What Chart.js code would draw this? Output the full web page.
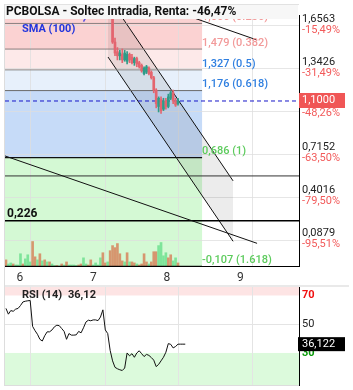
<!DOCTYPE html>
<html><head><meta charset="utf-8">
<script src="https://cdn.jsdelivr.net/npm/chart.js@4.4.0/dist/chart.umd.min.js"></script>
<style>
html,body{margin:0;padding:0;background:#fff;}
#wrap{position:relative;width:353px;height:390px;overflow:hidden;}
canvas{position:absolute;left:0;}
</style></head><body>
<div id="wrap">
<canvas id="main" width="353" height="285" style="top:0"></canvas>
<canvas id="rsi" width="353" height="105" style="top:285px"></canvas>
</div>
<script>
// ---------------- DATA ----------------
const chartTitle = 'PCBOLSA - Soltec Intradia, Renta: -46,47%';
const xTickValues = [6, 7, 8, 9];
const xTickLabels = ['6', '7', '8', '9'];
const xGridValues = [6.14, 7.155, 8.15, 9.16];

const priceTicks = [1.6563, 1.3426, 1.0289, 0.7152, 0.4016, 0.0879];
const priceTickLabels = ['1,6563', '1,3426', '', '0,7152', '0,4016', '0,0879'];
const pctTickLabels = ['-15,49%', '-31,49%', '', '-63,50%', '-79,50%', '-95,51%'];
const lastPrice = 1.1;
const lastPriceLabel = '1,1000';
const lastPctLabel = '-48,26%';

const fibValues = [1.666, 1.479, 1.327, 1.176, 0.686, -0.107];
const fibLabels = ['1,666 (0.236)', '1,479 (0.382)', '1,327 (0.5)', '1,176 (0.618)', '0,686 (1)', '-0,107 (1.618)'];
const fibTimeRange = [5.796, 8.48];

const channelTimes = [7.199, 8.902];
const channelUpper = [1.862, 0.517];
const channelLower = [1.421, 0.076];

const trendUpperTimes = [8.316, 9.229];
const trendUpperValues = [1.716, 1.545];
const trendLowerTimes = [5.796, 9.229];
const trendLowerValues = [0.699, 0.061];

const supportLevels = [0.553, 0.226];
const supportLabel = '0,226';
const smaLabel = 'SMA (100)';

const firstBarTime = 5.809;
const barStep = 0.033;

const volume = [60,20,30,20,10,10,120,20,70,110, 40,240,90,60,120,50,60,40,40,20,
  5,5,0,20,10,40,10,10,10,5, 10,20,80,20,10,60,10,30,10,80,
  130,30,40,150,200,180,220,120,50,40, 130,40,40,30,20,10,20,120,40,20,
  40,140,140,200,230,100,130,80,110,50, 80,30];
const volumeUp = [0,1,1,0,1,1,1,0,1,1, 1,0,0,1,0,1,0,1,0,1,
  1,0,1,0,1,0,1,1,1,1, 0,0,1,1,0,0,1,1,1,1,
  0,0,1,0,0,0,0,0,0,1, 0,1,0,0,1,0,0,0,0,1,
  0,0,0,1,1,1,1,0,0,1, 1,0];

const candleFirstBar = 44;
const candleOpen  = [1.72,1.53,1.46,1.43,1.44,1.40,1.39,1.44,1.42,1.38,1.41,1.38,1.36,1.30,1.31,1.34,1.31,1.27,1.18,1.06,1.11,1.04,1.10,1.06,1.12,1.16,1.10,1.08];
const candleHigh  = [1.75,1.56,1.49,1.47,1.48,1.47,1.46,1.45,1.44,1.42,1.42,1.39,1.37,1.35,1.36,1.35,1.32,1.28,1.19,1.13,1.13,1.12,1.12,1.15,1.17,1.18,1.12,1.12];
const candleLow   = [1.52,1.43,1.40,1.40,1.38,1.39,1.37,1.38,1.37,1.36,1.35,1.34,1.31,1.29,1.30,1.29,1.26,1.16,1.05,1.02,1.01,1.03,1.04,1.05,1.11,1.08,1.06,1.07];
const candleClose = [1.53,1.45,1.43,1.45,1.40,1.45,1.44,1.40,1.38,1.41,1.37,1.35,1.32,1.34,1.35,1.30,1.27,1.18,1.08,1.12,1.03,1.10,1.06,1.13,1.16,1.10,1.07,1.10];

const smaBars = [32, 33];
const smaValues = [1.68, 1.71];

const rsiValues = [61,57,59.5,59,60.5,61,63,65.5,66,66.3, 66.5,48.5,45.5,43,39.5,38.3,42,44.7,44.7,46,
  48.2,49.3,49,47,45,39.5,43.5,42.4,42.4,42.6, 45,44,47.5,51.5,52.8,52.4,53,53,52.5,55,
  60,46,43.5,31.8,24.5,20,19,18.3,17.8,19.5, 30,28,29.5,27,30,31.5,29.5,27.5,29,28.3,
  26.8,25,20.5,22,24.5,27,30.5,36.5,36,33.5, 34.5,36.12,36.12,36.12,36.12];
const rsiTitle = 'RSI (14)';
const rsiLastShort = '36,12';
const rsiLastLong = '36,122';
const rsiLevels = [70, 50, 30];
const rsiLevelLabels = ['70', '50', '30'];

// ---------------- STYLE ----------------
const X_MIN = 5.796, X_MAX = 9.8;
const Y_MIN = -0.1044, Y_MAX = 1.7277;
const RSI_MIN = 7.7, RSI_MAX = 75.9;
const FONT = 'Roboto, "Open Sans", sans-serif';
const upColor = '#2e9c88', downColor = '#e4656f';
const volUpColor = '#7ee49a', volDownColor = '#d6966f';
const bandColors = ['#fbd2d2', '#fde9e9', '#e7f0fb', '#c6dbf8', '#d4f9d4'];
const fibLineColors = ['#8a7f7f', '#8a7f7f', '#888', '#6a6a6a', '#111', '#111'];
const fibLabelColors = ['#f29a9a', '#f29a9a', '#2f7fe0', '#2f7fe0', '#5ccb5c', '#5ccb5c'];
const gridColor = 'rgba(222,222,222,0.75)';

Chart.defaults.font.family = FONT;

const barTime = i => firstBarTime + i * barStep;

// ---------------- MAIN CHART ----------------
const datasets = [];
datasets.push({
  type: 'bar', yAxisID: 'yv', order: 30, grouped: false, barThickness: 2,
  data: volume.map((v, i) => ({x: barTime(i), y: v})),
  backgroundColor: volumeUp.map(u => u ? volUpColor : volDownColor)
});
const lineBase = {type: 'line', yAxisID: 'y', pointRadius: 0, borderWidth: 1, fill: false, tension: 0};
datasets.push(Object.assign({}, lineBase, {
  order: 25, borderColor: '#111', fill: '+1', backgroundColor: 'rgba(0,0,0,0.075)',
  data: channelTimes.map((t, i) => ({x: t, y: channelUpper[i]}))
}));
datasets.push(Object.assign({}, lineBase, {
  order: 24, borderColor: '#111',
  data: channelTimes.map((t, i) => ({x: t, y: channelLower[i]}))
}));
fibValues.forEach((v, k) => {
  datasets.push(Object.assign({}, lineBase, {
    order: 20, borderColor: fibLineColors[k], borderWidth: k >= 4 ? 1.2 : 1,
    data: fibTimeRange.map(t => ({x: t, y: v}))
  }));
});
supportLevels.forEach((v, k) => {
  datasets.push(Object.assign({}, lineBase, {
    order: 15, borderColor: k === 0 ? '#333' : '#000', borderWidth: k === 0 ? 1 : 1.5,
    data: [{x: X_MIN, y: v}, {x: X_MAX, y: v}]
  }));
});
datasets.push(Object.assign({}, lineBase, {
  order: 14, borderColor: '#111',
  data: trendUpperTimes.map((t, i) => ({x: t, y: trendUpperValues[i]}))
}));
datasets.push(Object.assign({}, lineBase, {
  order: 14, borderColor: '#111',
  data: trendLowerTimes.map((t, i) => ({x: t, y: trendLowerValues[i]}))
}));
datasets.push(Object.assign({}, lineBase, {
  order: 12, borderColor: '#1515c8', borderDash: [4, 3],
  data: [{x: X_MIN, y: lastPrice}, {x: X_MAX, y: lastPrice}]
}));
datasets.push(Object.assign({}, lineBase, {
  order: 10, borderColor: '#5a4ee0', borderWidth: 1.5,
  data: smaBars.map((b, i) => ({x: barTime(b), y: smaValues[i]}))
}));
const candleColors = candleOpen.map((o, i) => candleClose[i] >= o ? upColor : downColor);
datasets.push({
  type: 'bar', yAxisID: 'y', order: 3, grouped: false, barThickness: 1,
  data: candleOpen.map((o, i) => ({x: barTime(candleFirstBar + i), y: [candleLow[i], candleHigh[i]]})),
  backgroundColor: candleColors
});
datasets.push({
  type: 'bar', yAxisID: 'y', order: 2, grouped: false, barThickness: 2,
  data: candleOpen.map((o, i) => ({x: barTime(candleFirstBar + i), y: [o, candleClose[i]]})),
  backgroundColor: candleColors
});

function clipArea(ctx, a) {
  ctx.beginPath(); ctx.rect(a.left, a.top, a.right - a.left, a.bottom - a.top); ctx.clip();
}
function hLine(ctx, x0, x1, y) { ctx.beginPath(); ctx.moveTo(x0, Math.round(y) + 0.5); ctx.lineTo(x1, Math.round(y) + 0.5); ctx.stroke(); }
function vLine(ctx, x, y0, y1) { ctx.beginPath(); ctx.moveTo(Math.round(x) + 0.5, y0); ctx.lineTo(Math.round(x) + 0.5, y1); ctx.stroke(); }

const mainPlugin = {
  id: 'mainDeco',
  beforeDraw(chart) {
    const c = chart.ctx; c.save(); c.fillStyle = '#fff'; c.fillRect(0, 0, chart.width, chart.height); c.restore();
  },
  beforeDatasetsDraw(chart) {
    const {ctx, chartArea: a} = chart; const xs = chart.scales.x, ys = chart.scales.y;
    ctx.save(); clipArea(ctx, a);
    const x0 = xs.getPixelForValue(fibTimeRange[0]), x1 = xs.getPixelForValue(fibTimeRange[1]);
    const edges = [Y_MAX, fibValues[1], fibValues[2], fibValues[3], fibValues[4], Y_MIN];
    for (let k = 0; k < 5; k++) {
      const yA = ys.getPixelForValue(edges[k]), yB = ys.getPixelForValue(edges[k + 1]);
      ctx.fillStyle = bandColors[k];
      ctx.fillRect(x0, yA, x1 - x0, yB - yA);
    }
    ctx.strokeStyle = gridColor; ctx.lineWidth = 1;
    xGridValues.forEach(v => vLine(ctx, xs.getPixelForValue(v), a.top, a.bottom));
    priceTicks.forEach(v => hLine(ctx, a.left, a.right, ys.getPixelForValue(v)));
    ctx.restore();
  },
  afterDraw(chart) {
    const {ctx, chartArea: a} = chart; const xs = chart.scales.x, ys = chart.scales.y;
    ctx.save();
    // fib labels
    ctx.font = '500 11px ' + FONT; ctx.textBaseline = 'middle'; ctx.textAlign = 'left';
    const lx = xs.getPixelForValue(fibTimeRange[1]);
    fibValues.forEach((v, k) => {
      ctx.fillStyle = fibLabelColors[k];
      ctx.fillText(fibLabels[k], lx, ys.getPixelForValue(v) - 6);
    });
    // support label
    ctx.font = 'bold 12px ' + FONT; ctx.fillStyle = '#111';
    ctx.fillText(supportLabel, a.left + 2, ys.getPixelForValue(supportLevels[1]) - 7);
    // SMA label
    ctx.font = 'bold 11px ' + FONT; ctx.fillStyle = '#2235dd';
    ctx.fillText(smaLabel, 22, 29);
    // right axis labels
    ctx.font = '11px ' + FONT;
    priceTicks.forEach((v, k) => {
      if (!priceTickLabels[k]) return;
      const y = ys.getPixelForValue(v);
      ctx.fillStyle = '#222'; ctx.fillText(priceTickLabels[k], a.right + 3, y - 6);
      ctx.fillStyle = '#f25a5a'; ctx.fillText(pctTickLabels[k], a.right + 3, y + 5);
    });
    const yp = ys.getPixelForValue(lastPrice);
    ctx.fillStyle = '#f05656'; ctx.fillRect(a.right, yp - 8, 46, 15);
    ctx.fillStyle = '#fff'; ctx.fillText(lastPriceLabel, a.right + 3, yp - 0.5);
    ctx.fillStyle = '#f25a5a'; ctx.fillText(lastPctLabel, a.right + 3, yp + 12);
    // title box
    ctx.fillStyle = '#f7f7f7'; ctx.fillRect(5, 4, a.right - 6, 15);
    ctx.strokeStyle = '#e2e2e2'; ctx.lineWidth = 1; hLine(ctx, 4, a.right, 4);
    ctx.font = 'bold 12px ' + FONT; ctx.fillStyle = '#111';
    ctx.fillText(chartTitle, 6, 12);
    // left frame
    ctx.strokeStyle = '#ddd'; vLine(ctx, 4, 4, chart.height);
    ctx.restore();
  }
};

new Chart(document.getElementById('main'), {
  type: 'bar',
  data: {datasets},
  options: {
    responsive: false, animation: false, devicePixelRatio: 1,
    layout: {padding: {left: 5, top: 15, right: 0, bottom: 0}},
    plugins: {legend: {display: false}, tooltip: {enabled: false}},
    scales: {
      x: {
        type: 'linear', min: X_MIN, max: X_MAX, offset: false,
        grid: {display: false, drawTicks: false, offset: false},
        border: {display: true, color: '#000', width: 1},
        afterBuildTicks: s => { s.ticks = xTickValues.map(v => ({value: v})); },
        ticks: {padding: 5, color: '#333', font: {size: 12}, maxRotation: 0, autoSkip: false,
          callback: (v, i) => xTickLabels[i]},
        afterFit: s => { s.height = 19; }
      },
      y: {
        type: 'linear', position: 'right', min: Y_MIN, max: Y_MAX,
        grid: {display: false, drawTicks: false},
        border: {display: true, color: '#000', width: 1},
        ticks: {display: false},
        afterFit: s => { s.width = 54; }
      },
      yv: {type: 'linear', display: false, min: 0, max: 2460}
    }
  },
  plugins: [mainPlugin]
});

// ---------------- RSI CHART ----------------
const rsiPlugin = {
  id: 'rsiDeco',
  beforeDraw(chart) {
    const c = chart.ctx; c.save(); c.fillStyle = '#fff'; c.fillRect(0, 0, chart.width, chart.height); c.restore();
  },
  beforeDatasetsDraw(chart) {
    const {ctx, chartArea: a} = chart; const xs = chart.scales.x, ys = chart.scales.y;
    ctx.save(); clipArea(ctx, a);
    const y70 = ys.getPixelForValue(70), y30 = ys.getPixelForValue(30);
    ctx.fillStyle = '#fde4e4'; ctx.fillRect(a.left, a.top, a.right - a.left, y70 - a.top);
    ctx.fillStyle = '#dcfadc'; ctx.fillRect(a.left, y30, a.right - a.left, a.bottom - y30);
    ctx.strokeStyle = '#e4e4e4'; ctx.lineWidth = 1;
    xGridValues.forEach(v => vLine(ctx, xs.getPixelForValue(v), a.top, a.bottom));
    hLine(ctx, a.left, a.right, ys.getPixelForValue(50));
    ctx.restore();
  },
  afterDraw(chart) {
    const {ctx, chartArea: a} = chart; const ys = chart.scales.y;
    ctx.save();
    ctx.fillStyle = '#e9e9e9'; ctx.fillRect(4, 0, 345, 2);
    ctx.strokeStyle = '#ddd'; ctx.lineWidth = 1;
    vLine(ctx, 4, 0, a.bottom); hLine(ctx, 4, a.right, a.bottom);
    ctx.textBaseline = 'middle'; ctx.textAlign = 'left';
    ctx.font = 'bold 11px ' + FONT; ctx.fillStyle = '#222';
    ctx.fillText(rsiTitle, 22, 10);
    ctx.fillText(rsiLastShort, 68, 10);
    const cols = ['#f01010', '#222', '#0a9a0a'];
    rsiLevels.forEach((v, k) => {
      ctx.font = (k === 1 ? '' : 'bold ') + '11px ' + FONT;
      ctx.fillStyle = cols[k];
      ctx.fillText(rsiLevelLabels[k], a.right + 3, ys.getPixelForValue(v));
    });
    const yl = ys.getPixelForValue(rsiValues[rsiValues.length - 1]);
    ctx.fillStyle = '#000'; ctx.fillRect(a.right - 1, yl - 7, 47, 14);
    ctx.font = '11px ' + FONT; ctx.fillStyle = '#fff';
    ctx.fillText(rsiLastLong, a.right + 3, yl);
    ctx.restore();
  }
};

new Chart(document.getElementById('rsi'), {
  type: 'line',
  data: {datasets: [{
    data: rsiValues.map((v, i) => ({x: barTime(i), y: v})),
    borderColor: '#111', borderWidth: 1, pointRadius: 0, tension: 0, fill: false
  }]},
  options: {
    responsive: false, animation: false, devicePixelRatio: 1,
    layout: {padding: {left: 5, top: 2, right: 0, bottom: 5}},
    plugins: {legend: {display: false}, tooltip: {enabled: false}},
    scales: {
      x: {type: 'linear', min: X_MIN, max: X_MAX, display: false},
      y: {
        type: 'linear', position: 'right', min: RSI_MIN, max: RSI_MAX,
        grid: {display: false, drawTicks: false},
        border: {display: true, color: '#000', width: 1},
        ticks: {display: false},
        afterFit: s => { s.width = 54; }
      }
    }
  },
  plugins: [rsiPlugin]
});
</script>
</body></html>
